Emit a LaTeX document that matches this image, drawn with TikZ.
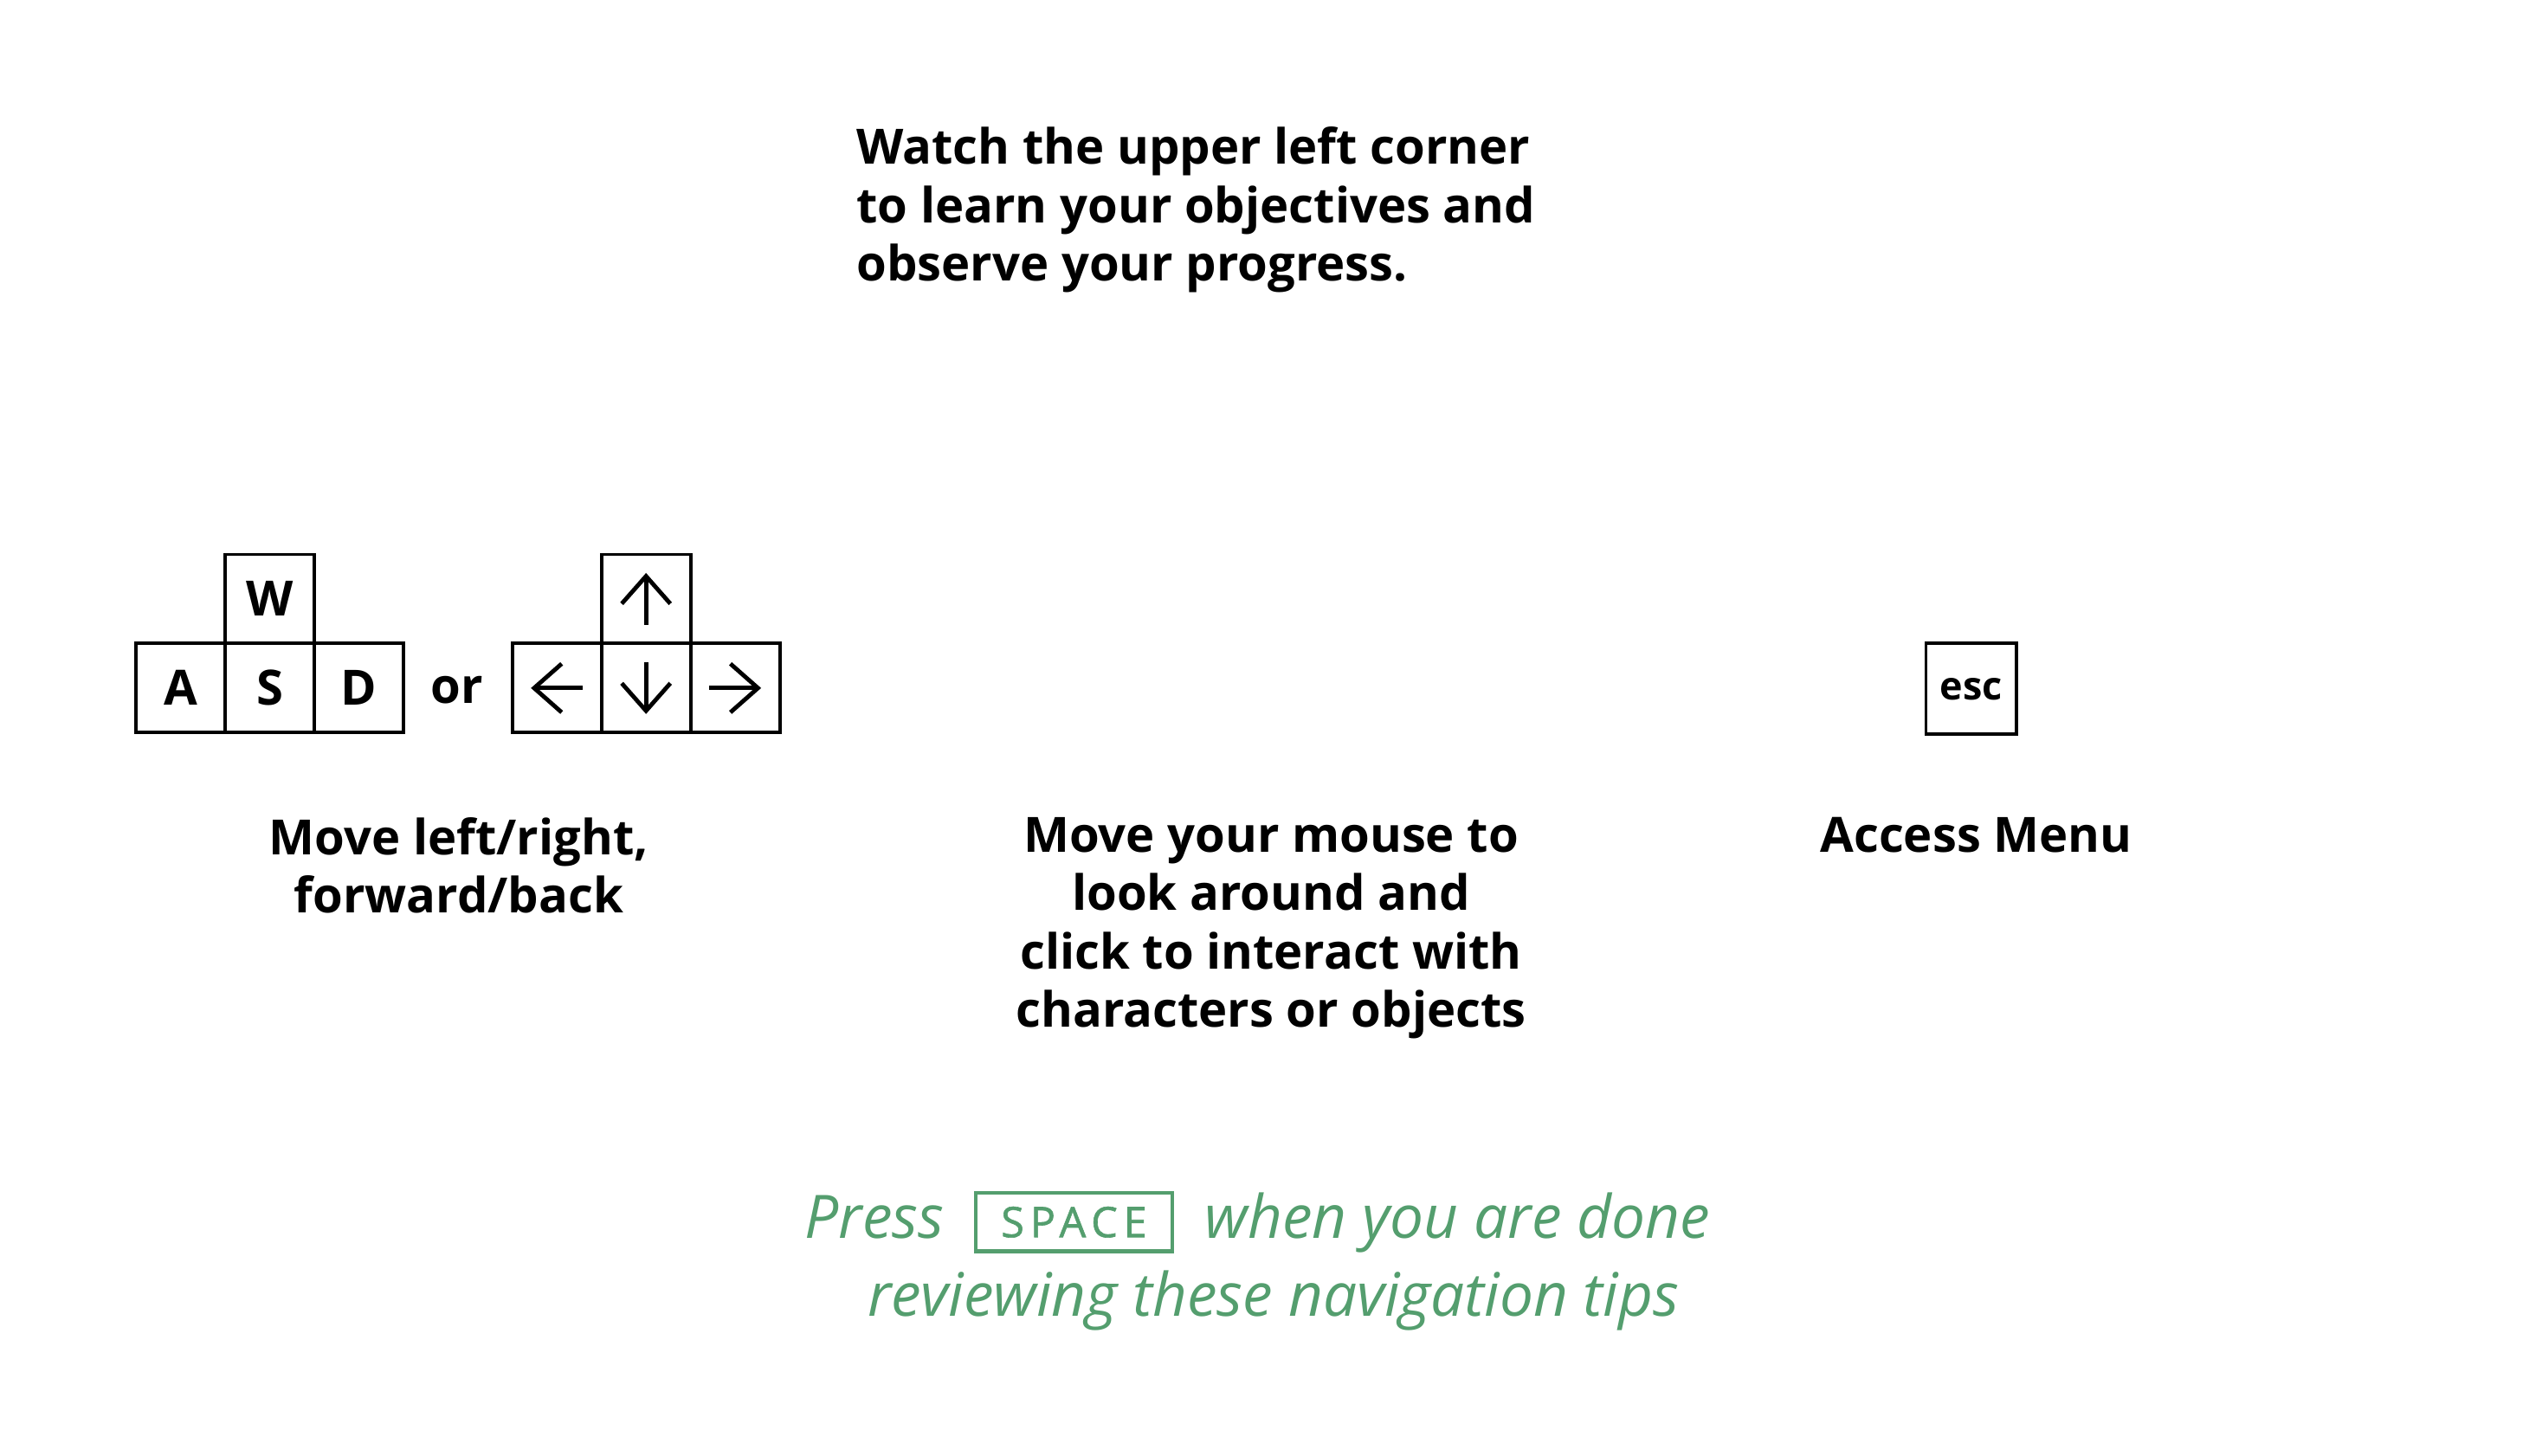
\documentclass[tikz,border=0pt]{standalone}
\usepackage{fontspec}
\setmainfont{Open Sans}
\newfontfamily\capsfont[LetterSpace=14,FakeBold=1.2]{Open Sans}
\usetikzlibrary{positioning,arrows.meta}
\definecolor{tipgreen}{RGB}{84,158,110}
\begin{document}
\begin{tikzpicture}[x=0.5pt,y=-0.5pt,keybox/.style={shape=rectangle,draw=black,line width=1pt,minimum size=27.5pt,inner sep=0pt,outer sep=0pt,font=\bfseries\fontsize{15}{18}\selectfont},keyarrow/.style={line width=1.3pt,-{Straight Barb[length=8.5pt,width=15pt]}},captext/.style={anchor=north,inner sep=0pt,align=center,font=\bfseries\fontsize{15}{18}\selectfont},greentext/.style={inner sep=0pt,text=tipgreen,font=\itshape\fontsize{18.5}{24}\selectfont}]
\def\ar{8pt};

\useasboundingbox (0,0) rectangle (1568,898);

\node[anchor=north west,inner sep=0pt,align=left,font=\bfseries\fontsize{15}{18}\selectfont] (watch) at (528,78) {Watch the upper left corner\\to learn your objectives and\\observe your progress.};

\node[keybox] (A) at (111.5,424.5) {A};
\node[keybox,right=0pt of A] (S) {S};
\node[keybox,right=0pt of S] (D) {D};
\node[keybox,above=0pt of S] (W) {W};

\node[anchor=base,inner sep=0pt,font=\bfseries\fontsize{15}{18}\selectfont] (or) at (282,434) {or};

\node[keybox] (left) at (343.5,424.5) {};
\node[keybox,right=0pt of left] (down) {};
\node[keybox,right=0pt of down] (right) {};
\node[keybox,above=0pt of down] (up) {};
\draw[keyarrow] ([xshift=\ar]left.center) -- ([xshift=-\ar]left.center);
\draw[keyarrow] ([yshift=\ar]down.center) -- ([yshift=-\ar]down.center);
\draw[keyarrow] ([xshift=-\ar]right.center) -- ([xshift=\ar]right.center);
\draw[keyarrow] ([yshift=-\ar]up.center) -- ([yshift=\ar]up.center);

\node[keybox,minimum size=28pt,font=\bfseries\fontsize{12}{14}\selectfont] (esc) at (1216,425) {esc};

\node[captext] (move) at (283,504) {Move left/right,\\forward/back};
\node[captext] (mouse) at (784,504) {Move your mouse to\\look around and\\click to interact with\\characters or objects};
\node[captext] (menu) at (1219,504) {Access Menu};

\node[greentext,anchor=base west] (press) at (496,764) {Press};
\node[draw=tipgreen,line width=1.1pt,minimum width=60.5pt,minimum height=18pt,inner sep=0pt,text=tipgreen,font=\capsfont\fontsize{13}{15}\selectfont] (space) at (662.5,754) {SPACE};
\node[greentext,anchor=base west] (done) at (743,764) {when you are done};
\node[greentext,anchor=base] (review) at (785.5,812) {reviewing these navigation tips};
\end{tikzpicture}
\end{document}
